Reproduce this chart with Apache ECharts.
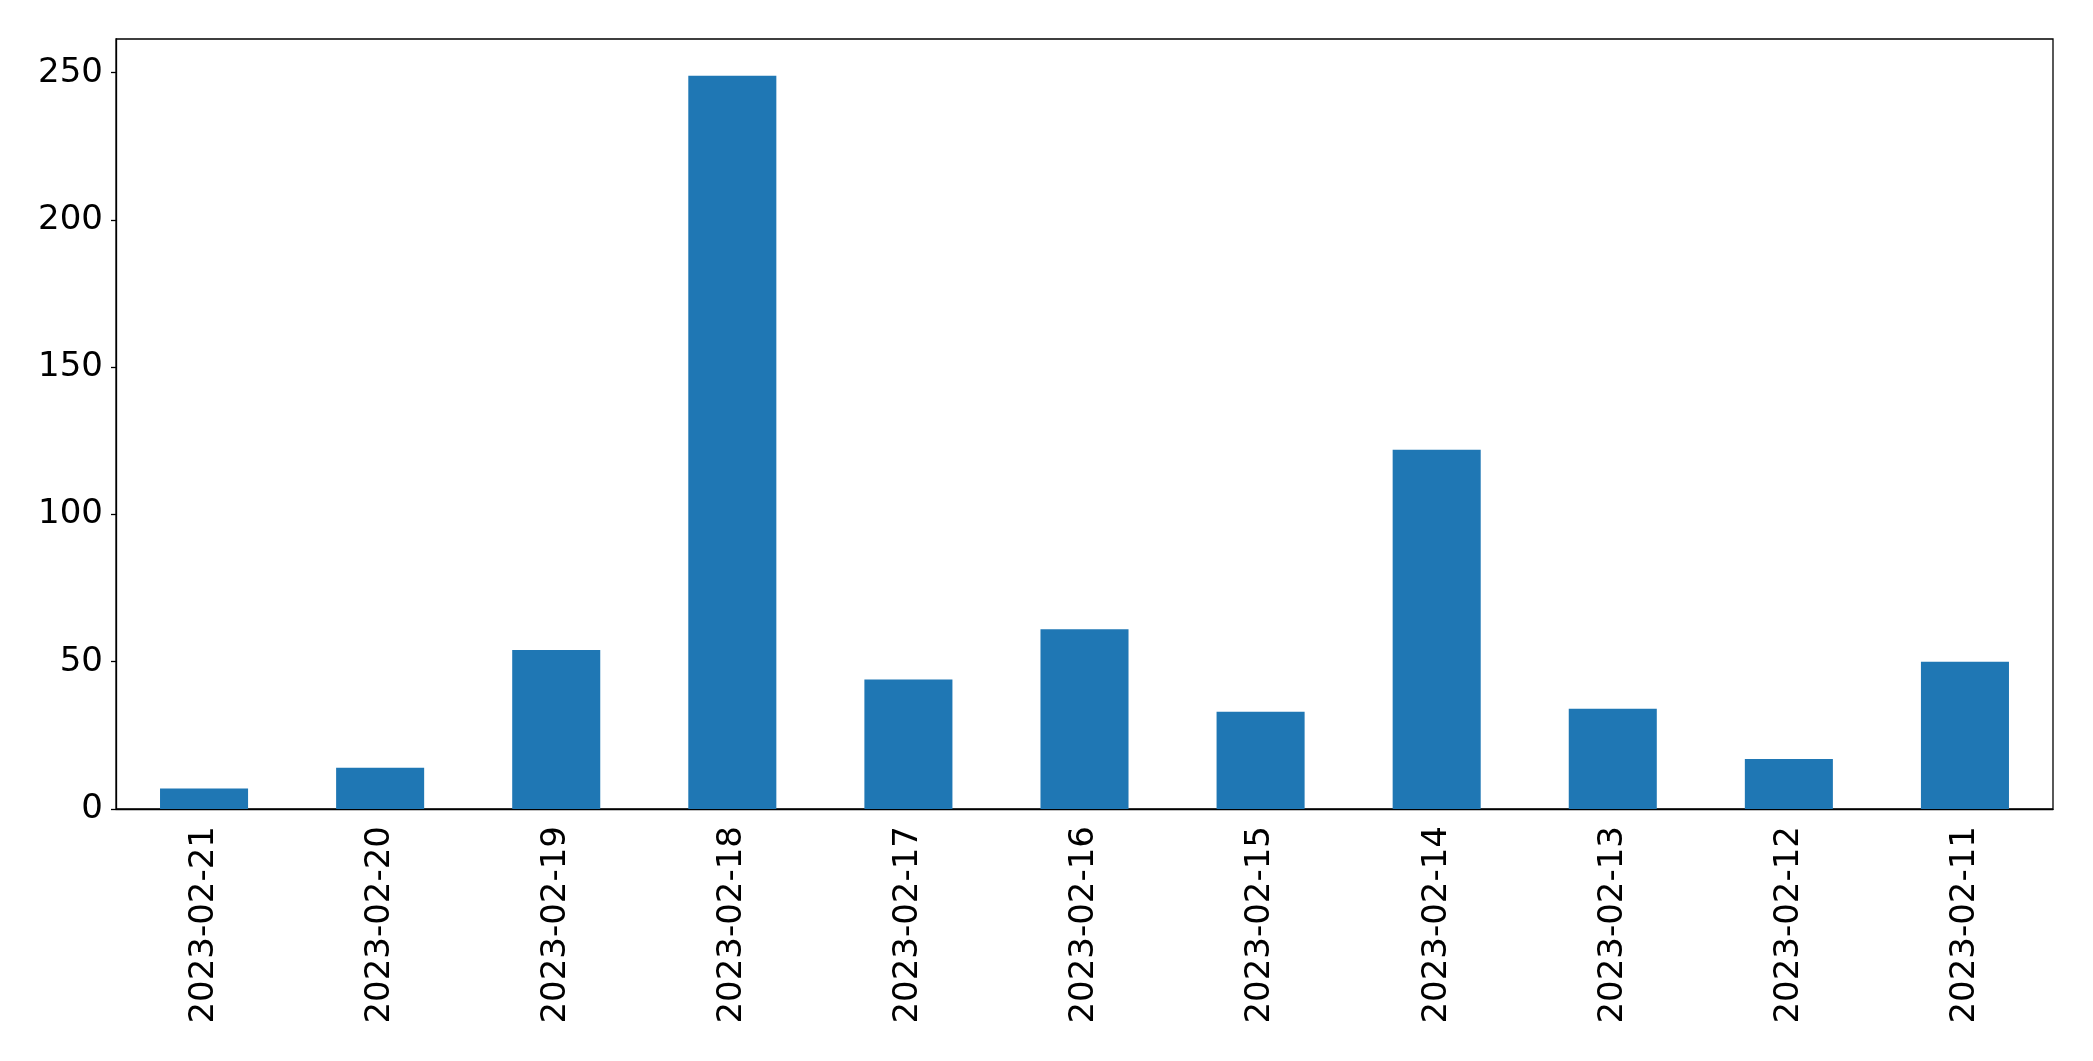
<!DOCTYPE html>
<html>
<head>
<meta charset="utf-8">
<script src="https://cdn.jsdelivr.net/npm/echarts@6/dist/echarts.min.js"></script>
<style>
  html, body { margin: 0; padding: 0; background: #fff; }
  #chart { width: 2093px; height: 1061px; }
</style>
</head>
<body>
<div id="chart"></div>
<script>
// dates as they appear left to right
const dates = ['2023-02-21', '2023-02-20', '2023-02-19', '2023-02-18', '2023-02-17', '2023-02-16',
    '2023-02-15', '2023-02-14', '2023-02-13', '2023-02-12', '2023-02-11'];
const counts = [7, 14, 54, 249, 44, 61, 33, 122, 34, 17, 50];
const yTicks = [0, 50, 100, 150, 200, 250];

const font = 'DejaVu Sans';

// matplotlib style: 5% headroom above the tallest bar
const yMax = Math.max(...counts) * 1.05;

const myChart = echarts.init(document.querySelector('#chart'));

myChart.setOption({
    animation: false,
    grid: {
        left: 116,
        top: 39,
        right: 40,
        bottom: 252,
        show: true,
        borderColor: '#000',
        borderWidth: 1.3,
        backgroundColor: 'transparent'
    },
    xAxis: {
        type: 'category',
        data: dates,
        boundaryGap: true,
        axisLine: { lineStyle: { color: '#000', width: 1.3 } },
        axisTick: { alignWithLabel: true, length: 5, lineStyle: { color: '#000', width: 1.3 } },
        axisLabel: {
            rotate: 90,
            margin: 17,
            color: '#000',
            fontFamily: font,
            fontSize: 34,
            interval: 0
        }
    },
    yAxis: {
        type: 'value',
        min: 0,
        max: yMax,
        interval: 50,
        splitLine: { show: false },
        axisLine: { show: true, lineStyle: { color: '#000', width: 1.3 } },
        axisTick: { show: true, length: 5, customValues: yTicks, lineStyle: { color: '#000', width: 1.3 } },
        axisLabel: {
            customValues: yTicks,
            margin: 13,
            padding: [6, 0, 0, 0],
            color: '#000',
            fontFamily: font,
            fontSize: 34
        }
    },
    series: [{
        type: 'bar',
        data: counts,
        barCategoryGap: '50%',
        itemStyle: { color: '#1f77b4' }
    }]
});
</script>
</body>
</html>
